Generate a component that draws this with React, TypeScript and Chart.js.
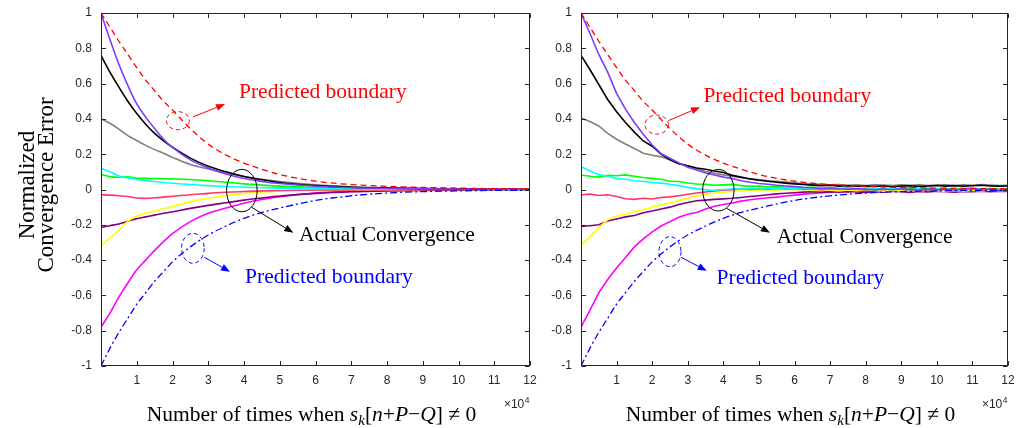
import React, { useEffect, useRef } from 'react';
import { Chart, registerables } from 'chart.js';

Chart.register(...registerables);

// ---------- data ----------
// sample positions (units of 10^4) for the smooth (left) panel
const X_SMOOTH = [0, 0.25, 0.5, 0.75, 1, 1.25, 1.5, 1.75, 2, 2.5, 3, 3.5, 4, 4.5, 5, 6, 7, 8, 9, 10, 11, 12];
// sample positions for the noisy (right) panel
const X_FINE = [
  0, 0.25, 0.5, 0.75, 1, 1.25, 1.5, 1.75, 2, 2.25, 2.5, 2.75, 3, 3.25, 3.5, 3.75, 4,
  4.25, 4.5, 4.75, 5, 5.25, 5.5, 5.75, 6, 6.25, 6.5, 6.75, 7, 7.25, 7.5, 7.75, 8,
  8.25, 8.5, 8.75, 9, 9.25, 9.5, 9.75, 10, 10.25, 10.5, 10.75, 11, 11.25, 11.5, 11.75, 12,
];

// predicted boundaries (on X_SMOOTH)
const UPPER_BOUND = [1, 0.92, 0.84, 0.765, 0.69, 0.62, 0.56, 0.5, 0.45, 0.345, 0.257, 0.195, 0.15, 0.115, 0.085, 0.047, 0.028, 0.018, 0.012, 0.008, 0.005, 0.004];
const LOWER_BOUND = [-1, -0.9, -0.81, -0.73, -0.65, -0.585, -0.52, -0.465, -0.41, -0.325, -0.258, -0.207, -0.163, -0.13, -0.105, -0.062, -0.036, -0.02, -0.012, -0.008, -0.005, -0.004];

// actual convergence, left panel (on X_SMOOTH)
const VIOLET_L = [1, 0.85, 0.71, 0.59, 0.485, 0.41, 0.345, 0.285, 0.238, 0.168, 0.122, 0.088, 0.062, 0.046, 0.034, 0.018, 0.01, 0.006, 0.004, 0.003, 0.002, 0.001];
const BLACK_L = [0.76, 0.665, 0.58, 0.5, 0.43, 0.37, 0.318, 0.276, 0.24, 0.178, 0.132, 0.1, 0.074, 0.055, 0.04, 0.022, 0.013, 0.008, 0.005, 0.003, 0.002, 0.001];
const GRAY_L = [0.4, 0.375, 0.342, 0.305, 0.278, 0.25, 0.226, 0.205, 0.182, 0.142, 0.116, 0.093, 0.074, 0.058, 0.045, 0.027, 0.016, 0.01, 0.006, 0.004, 0.002, 0.001];
const CYAN_L = [0.12, 0.1, 0.077, 0.066, 0.057, 0.05, 0.045, 0.04, 0.035, 0.028, 0.022, 0.017, 0.013, 0.01, 0.008, 0.005, 0.003, 0.002, 0.001, 0.001, 0, 0];
const GREEN_L = [0.085, 0.073, 0.069, 0.072, 0.064, 0.063, 0.062, 0.061, 0.06, 0.057, 0.05, 0.041, 0.032, 0.025, 0.019, 0.011, 0.007, 0.004, 0.003, 0.002, 0.001, 0];
const ROSE_L = [-0.03, -0.032, -0.035, -0.04, -0.048, -0.05, -0.047, -0.043, -0.038, -0.03, -0.022, -0.016, -0.011, -0.008, -0.006, -0.003, -0.002, -0.001, -0.001, 0, 0, 0];
const YELLOW_L = [-0.315, -0.275, -0.23, -0.18, -0.15, -0.135, -0.122, -0.109, -0.097, -0.07, -0.05, -0.034, -0.022, -0.014, -0.009, -0.004, -0.002, -0.001, 0, 0, 0, 0];
const PLUM_L = [-0.215, -0.205, -0.195, -0.18, -0.165, -0.155, -0.145, -0.135, -0.126, -0.107, -0.09, -0.075, -0.06, -0.048, -0.037, -0.022, -0.013, -0.008, -0.005, -0.003, -0.002, -0.001];
const MAGENTA_L = [-0.78, -0.7, -0.61, -0.53, -0.455, -0.4, -0.345, -0.295, -0.25, -0.182, -0.135, -0.105, -0.078, -0.057, -0.041, -0.02, -0.011, -0.006, -0.003, -0.002, -0.001, 0];

// actual convergence, right panel (on X_FINE)
const VIOLET_R = [1, 0.885, 0.765, 0.665, 0.545, 0.455, 0.38, 0.313, 0.252, 0.203, 0.177, 0.151, 0.126, 0.11, 0.093, 0.082, 0.07, 0.062, 0.05, 0.041, 0.034, 0.03, 0.024, 0.02, 0.017, 0.012, 0.01, 0.006, 0.008, 0.004, 0.002, 0.005, 0.001, -0.002, 0.003, -0.001, 0.004, 0, -0.004, 0.002, -0.002, 0.003, -0.003, 0.001, 0.006, -0.002, 0.002, -0.004, 0.001];
const BLACK_R = [0.76, 0.68, 0.595, 0.51, 0.44, 0.38, 0.325, 0.275, 0.245, 0.2, 0.168, 0.146, 0.135, 0.122, 0.115, 0.105, 0.096, 0.08, 0.07, 0.06, 0.052, 0.047, 0.041, 0.036, 0.032, 0.028, 0.025, 0.022, 0.024, 0.019, 0.021, 0.018, 0.02, 0.017, 0.02, 0.016, 0.019, 0.021, 0.017, 0.02, 0.023, 0.019, 0.022, 0.018, 0.021, 0.024, 0.02, 0.019, 0.02];
const GRAY_R = [0.405, 0.385, 0.36, 0.318, 0.285, 0.258, 0.232, 0.205, 0.194, 0.185, 0.168, 0.148, 0.133, 0.118, 0.102, 0.092, 0.083, 0.075, 0.067, 0.061, 0.056, 0.05, 0.046, 0.042, 0.038, 0.034, 0.031, 0.029, 0.026, 0.028, 0.024, 0.027, 0.023, 0.026, 0.025, 0.022, 0.027, 0.024, 0.026, 0.022, 0.025, 0.027, 0.023, 0.026, 0.024, 0.028, 0.025, 0.023, 0.024];
const CYAN_R = [0.13, 0.105, 0.085, 0.075, 0.062, 0.058, 0.05, 0.045, 0.04, 0.036, 0.03, 0.022, 0.012, 0.005, -0.002, -0.004, 0, 0.004, 0.002, 0.006, 0.003, 0.008, 0.005, 0.009, 0.006, 0.004, 0.008, 0.003, 0.006, 0.002, 0.007, 0.004, 0.001, 0.005, 0.002, 0.006, 0.003, -0.001, 0.004, 0.001, 0.005, 0.002, -0.002, 0.003, 0, 0.004, 0.001, -0.001, 0.002];
const GREEN_R = [0.082, 0.075, 0.07, 0.08, 0.078, 0.083, 0.075, 0.068, 0.063, 0.058, 0.047, 0.045, 0.037, 0.031, 0.03, 0.024, 0.026, 0.029, 0.022, 0.018, 0.02, 0.014, 0.017, 0.011, 0.015, 0.01, 0.013, 0.007, 0.011, 0.006, 0.01, 0.004, 0.008, 0.003, 0.007, 0.002, 0.006, 0.009, 0.004, 0.007, 0.002, 0.006, 0.001, 0.005, 0.008, 0.003, 0.006, 0.001, 0.004];
const ROSE_R = [-0.03, -0.026, -0.034, -0.03, -0.04, -0.052, -0.056, -0.05, -0.054, -0.045, -0.042, -0.035, -0.027, -0.02, -0.014, -0.008, -0.004, -0.001, 0.003, 0, 0.005, 0.002, 0.007, 0.003, 0.006, 0.001, 0.005, -0.002, 0.004, 0, 0.006, 0.002, -0.003, 0.004, 0, 0.005, 0.001, -0.003, 0.003, -0.001, 0.004, 0, 0.005, -0.002, 0.003, 0, 0.004, -0.003, 0.002];
const YELLOW_R = [-0.315, -0.27, -0.215, -0.172, -0.15, -0.14, -0.125, -0.113, -0.1, -0.087, -0.075, -0.062, -0.05, -0.036, -0.028, -0.02, -0.016, -0.011, -0.008, -0.003, -0.006, -0.001, -0.004, 0.002, -0.003, 0.001, -0.005, -0.001, -0.004, -0.008, -0.003, -0.007, -0.002, -0.006, -0.01, -0.005, -0.008, -0.004, -0.009, -0.003, -0.007, -0.011, -0.006, -0.009, -0.004, -0.008, -0.003, -0.007, -0.005];
const PLUM_R = [-0.21, -0.205, -0.2, -0.178, -0.167, -0.155, -0.147, -0.132, -0.122, -0.11, -0.1, -0.085, -0.074, -0.064, -0.06, -0.056, -0.053, -0.05, -0.045, -0.04, -0.035, -0.03, -0.025, -0.021, -0.018, -0.015, -0.013, -0.016, -0.012, -0.015, -0.011, -0.014, -0.017, -0.012, -0.015, -0.01, -0.013, -0.016, -0.011, -0.014, -0.009, -0.012, -0.015, -0.011, -0.013, -0.009, -0.012, -0.01, -0.011];
const MAGENTA_R = [-0.78, -0.685, -0.585, -0.51, -0.445, -0.385, -0.325, -0.28, -0.24, -0.207, -0.182, -0.157, -0.14, -0.13, -0.11, -0.095, -0.085, -0.076, -0.066, -0.058, -0.052, -0.047, -0.043, -0.037, -0.032, -0.026, -0.022, -0.018, -0.015, -0.011, -0.014, -0.008, -0.012, -0.006, -0.01, -0.004, -0.009, -0.002, -0.007, 0.001, -0.005, 0.002, -0.006, 0, -0.004, 0.003, -0.003, 0.001, -0.002];

// axis ticks
const X_TICKS = [0, 1, 2, 3, 4, 5, 6, 7, 8, 9, 10, 11, 12];
const X_TICK_LABELS = ['', '1', '2', '3', '4', '5', '6', '7', '8', '9', '10', '11', '12'];
const Y_TICKS = [-1, -0.8, -0.6, -0.4, -0.2, 0, 0.2, 0.4, 0.6, 0.8, 1];
const Y_TICK_LABELS = ['-1', '-0.8', '-0.6', '-0.4', '-0.2', '0', '0.2', '0.4', '0.6', '0.8', '1'];

// ---------- styling ----------
const SERIF = '"Liberation Serif", "Times New Roman", serif';
const SANS = '"Liberation Sans", Arial, sans-serif';
const AXIS_COLOR = '#262626';
const CURVE_COLORS = ['#7b3cff', '#000000', '#808080', '#00ffff', '#00ff00', '#ff3370', '#ffff00', '#800080', '#ff00ff'];
const NOTE_FONT = `21.5px ${SERIF}`;

type Note = { ellipse: number[]; arrow: number[]; text: number[]; label: string; color: string; dash: number[] };

const LEFT_NOTES: Note[] = [
  { ellipse: [2.15, 0.39, 11.5, 9], arrow: [2.57, 0.411, 3.47, 0.484], text: [3.86, 0.518], label: 'Predicted boundary', color: '#ff0000', dash: [4, 3] },
  { ellipse: [3.94, -0.006, 15.3, 21.2], arrow: [4.215, -0.101, 5.379, -0.245], text: [5.54, -0.292], label: 'Actual Convergence', color: '#000000', dash: [] },
  { ellipse: [2.57, -0.333, 11.3, 15], arrow: [2.89, -0.384, 3.608, -0.466], text: [4.03, -0.531], label: 'Predicted boundary', color: '#0000ff', dash: [4, 3] },
];
const RIGHT_NOTES: Note[] = [
  { ellipse: [2.127, 0.368, 11.7, 9.5], arrow: [2.454, 0.39, 3.345, 0.466], text: [3.44, 0.496], label: 'Predicted boundary', color: '#ff0000', dash: [4, 3] },
  { ellipse: [3.86, -0.004, 15.7, 20.8], arrow: [4.095, -0.107, 5.31, -0.245], text: [5.5, -0.303], label: 'Actual Convergence', color: '#000000', dash: [] },
  { ellipse: [2.501, -0.352, 11, 15], arrow: [2.81, -0.384, 3.533, -0.46], text: [3.81, -0.535], label: 'Predicted boundary', color: '#0000ff', dash: [4, 3] },
];

const X_TITLE_PARTS = [
  { t: 'Number of times when ', italic: false, sub: false },
  { t: 's', italic: true, sub: false },
  { t: 'k', italic: true, sub: true },
  { t: '[', italic: false, sub: false },
  { t: 'n', italic: true, sub: false },
  { t: '+', italic: false, sub: false },
  { t: 'P', italic: true, sub: false },
  { t: '\u2212', italic: false, sub: false },
  { t: 'Q', italic: true, sub: false },
  { t: '] \u2260 0', italic: false, sub: false },
];
const Y_TITLE_LINES = ['Normalized', 'Convergence Error'];

const toPoints = (xs: number[], ys: number[]) => ys.map((y, i) => ({ x: xs[i], y }));

function drawArrow(ctx: CanvasRenderingContext2D, x1: number, y1: number, x2: number, y2: number, color: string) {
  const ang = Math.atan2(y2 - y1, x2 - x1);
  const len = 9;
  const half = 3.5;
  const bx = x2 - len * Math.cos(ang);
  const by = y2 - len * Math.sin(ang);
  ctx.strokeStyle = color;
  ctx.fillStyle = color;
  ctx.lineWidth = 1;
  ctx.setLineDash([]);
  ctx.beginPath();
  ctx.moveTo(x1, y1);
  ctx.lineTo(bx, by);
  ctx.stroke();
  ctx.beginPath();
  ctx.moveTo(x2, y2);
  ctx.lineTo(bx + half * Math.sin(ang), by - half * Math.cos(ang));
  ctx.lineTo(bx - half * Math.sin(ang), by + half * Math.cos(ang));
  ctx.closePath();
  ctx.fill();
}

interface PanelSpec {
  left: number;
  width: number;
  axisWidth: number;
  padRight: number;
  xs: number[];
  curves: number[][];
  smooth: boolean;
  notes: Note[];
  yTitle: boolean;
}

function makeDecorPlugin(spec: PanelSpec) {
  return {
    id: 'decor',
    afterDraw(chart: any) {
      const { ctx, chartArea: a } = chart;
      const sx = chart.scales.x;
      const sy = chart.scales.y;
      ctx.save();

      // axes box with inward ticks on all sides
      ctx.strokeStyle = AXIS_COLOR;
      ctx.lineWidth = 1;
      ctx.setLineDash([]);
      const L = Math.round(a.left) + 0.5;
      const R = Math.round(a.right) - 0.5;
      const T = Math.round(a.top) + 0.5;
      const B = Math.round(a.bottom) - 0.5;
      ctx.strokeRect(L, T, R - L, B - T);
      const tl = 4.5;
      ctx.beginPath();
      X_TICKS.forEach((v) => {
        const px = Math.round(sx.getPixelForValue(v)) + 0.5;
        ctx.moveTo(px, B);
        ctx.lineTo(px, B - tl);
        ctx.moveTo(px, T);
        ctx.lineTo(px, T + tl);
      });
      Y_TICKS.forEach((v) => {
        const py = Math.round(sy.getPixelForValue(v)) + 0.5;
        ctx.moveTo(L, py);
        ctx.lineTo(L + tl, py);
        ctx.moveTo(R, py);
        ctx.lineTo(R - tl, py);
      });
      ctx.stroke();

      // x10^4 exponent label
      ctx.fillStyle = AXIS_COLOR;
      ctx.textBaseline = 'alphabetic';
      ctx.textAlign = 'left';
      ctx.font = `12px ${SANS}`;
      const base = '\u00d710';
      const wBase = ctx.measureText(base).width;
      ctx.font = `8.5px ${SANS}`;
      const wExp = ctx.measureText('4').width;
      const ex = a.right - 1 - wBase - wExp;
      ctx.font = `12px ${SANS}`;
      ctx.fillText(base, ex, 408);
      ctx.font = `8.5px ${SANS}`;
      ctx.fillText('4', ex + wBase + 0.5, 402.5);

      // annotations: ellipse, arrow and label
      spec.notes.forEach((n) => {
        const [ex0, ey0, rx, ry] = n.ellipse;
        ctx.strokeStyle = n.color;
        ctx.lineWidth = 1;
        ctx.setLineDash(n.dash);
        ctx.beginPath();
        ctx.ellipse(sx.getPixelForValue(ex0), sy.getPixelForValue(ey0), rx, ry, 0, 0, Math.PI * 2);
        ctx.stroke();
        const [ax1, ay1, ax2, ay2] = n.arrow;
        drawArrow(ctx, sx.getPixelForValue(ax1), sy.getPixelForValue(ay1), sx.getPixelForValue(ax2), sy.getPixelForValue(ay2), n.color);
        ctx.font = NOTE_FONT;
        ctx.fillStyle = n.color;
        ctx.textAlign = 'left';
        ctx.fillText(n.label, sx.getPixelForValue(n.text[0]), sy.getPixelForValue(n.text[1]));
      });

      // x-axis title with italic symbols and subscript
      const size = 21.5;
      const fontFor = (p: { italic: boolean; sub: boolean }) =>
        `${p.italic ? 'italic ' : ''}${p.sub ? size * 0.7 : size}px ${SERIF}`;
      let total = 0;
      X_TITLE_PARTS.forEach((p) => {
        ctx.font = fontFor(p);
        total += ctx.measureText(p.t).width;
      });
      let cx = (a.left + a.right) / 2 - 4 - total / 2;
      ctx.fillStyle = '#000000';
      X_TITLE_PARTS.forEach((p) => {
        ctx.font = fontFor(p);
        ctx.fillText(p.t, cx, p.sub ? 424.5 : 420.5);
        cx += ctx.measureText(p.t).width;
      });

      // y-axis title (first panel only)
      if (spec.yTitle) {
        ctx.font = `23px ${SERIF}`;
        ctx.textAlign = 'center';
        ctx.fillStyle = '#000000';
        const baselines = [34, 52.5];
        Y_TITLE_LINES.forEach((line, i) => {
          ctx.save();
          ctx.translate(baselines[i], 185);
          ctx.rotate(-Math.PI / 2);
          ctx.fillText(line, 0, 0);
          ctx.restore();
        });
      }
      ctx.restore();
    },
  };
}

function buildConfig(spec: PanelSpec): any {
  const curveSets = spec.curves.map((ys, i) => ({
    data: toPoints(spec.xs, ys),
    borderColor: CURVE_COLORS[i],
    borderWidth: 1.6,
    pointRadius: 0,
    fill: false,
    tension: 0,
    cubicInterpolationMode: spec.smooth ? 'monotone' : 'default',
  }));
  const bounds = [
    { data: toPoints(X_SMOOTH, UPPER_BOUND), borderColor: '#ff0000', borderDash: [6, 4] },
    { data: toPoints(X_SMOOTH, LOWER_BOUND), borderColor: '#0000ff', borderDash: [7, 3, 2, 3] },
  ].map((d) => ({ ...d, borderWidth: 1.3, pointRadius: 0, fill: false, cubicInterpolationMode: 'monotone' }));

  const tickFont = { family: SANS, size: 12 };
  return {
    type: 'line',
    data: { datasets: [...bounds, ...curveSets] },
    options: {
      responsive: false,
      animation: false,
      devicePixelRatio: 1,
      events: [],
      layout: { padding: { left: 0, top: 13, right: spec.padRight, bottom: 0 } },
      plugins: { legend: { display: false }, tooltip: { enabled: false } },
      scales: {
        x: {
          type: 'linear',
          min: 0,
          max: 12,
          grid: { display: false, drawTicks: false },
          border: { display: false },
          afterBuildTicks: (s: any) => {
            s.ticks = X_TICKS.map((value) => ({ value }));
          },
          afterFit: (s: any) => {
            s.height = 62;
            s.paddingLeft = 0;
            s.paddingRight = 0;
          },
          ticks: {
            autoSkip: false,
            maxRotation: 0,
            padding: 7,
            color: AXIS_COLOR,
            font: tickFont,
            callback: (_v: any, i: number) => X_TICK_LABELS[i],
          },
        },
        y: {
          type: 'linear',
          min: -1,
          max: 1,
          grid: { display: false, drawTicks: false },
          border: { display: false },
          afterBuildTicks: (s: any) => {
            s.ticks = Y_TICKS.map((value) => ({ value }));
          },
          afterFit: (s: any) => {
            s.width = spec.axisWidth;
            s.paddingTop = 0;
            s.paddingBottom = 0;
          },
          ticks: {
            autoSkip: false,
            padding: 9,
            color: AXIS_COLOR,
            font: tickFont,
            callback: (_v: any, i: number) => Y_TICK_LABELS[i],
          },
        },
      },
    },
    plugins: [makeDecorPlugin(spec)],
  };
}

const LEFT_PANEL: PanelSpec = {
  left: 0,
  width: 548,
  axisWidth: 101,
  padRight: 18,
  xs: X_SMOOTH,
  curves: [VIOLET_L, BLACK_L, GRAY_L, CYAN_L, GREEN_L, ROSE_L, YELLOW_L, PLUM_L, MAGENTA_L],
  smooth: true,
  notes: LEFT_NOTES,
  yTitle: true,
};

const RIGHT_PANEL: PanelSpec = {
  left: 548,
  width: 469,
  axisWidth: 33,
  padRight: 9,
  xs: X_FINE,
  curves: [VIOLET_R, BLACK_R, GRAY_R, CYAN_R, GREEN_R, ROSE_R, YELLOW_R, PLUM_R, MAGENTA_R],
  smooth: false,
  notes: RIGHT_NOTES,
  yTitle: false,
};

function Panel({ spec }: { spec: PanelSpec }) {
  const ref = useRef<HTMLCanvasElement>(null);
  useEffect(() => {
    if (!ref.current) return;
    const chart = new Chart(ref.current, buildConfig(spec));
    return () => chart.destroy();
  }, [spec]);
  return (
    <canvas
      ref={ref}
      width={spec.width}
      height={428}
      style={{ position: 'absolute', left: spec.left, top: 0, width: spec.width, height: 428 }}
    />
  );
}

export default function App() {
  return (
    <div style={{ position: 'absolute', left: 0, top: 0, width: 1017, height: 428, background: '#ffffff' }}>
      <Panel spec={LEFT_PANEL} />
      <Panel spec={RIGHT_PANEL} />
    </div>
  );
}
